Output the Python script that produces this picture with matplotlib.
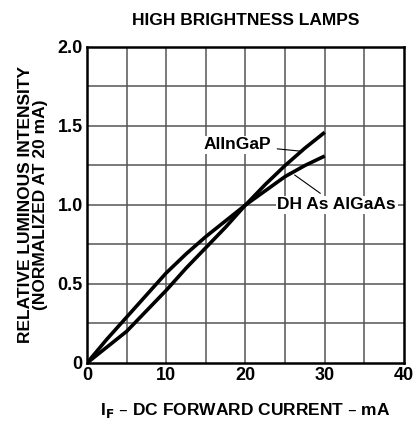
import numpy as np
import matplotlib
matplotlib.use('Agg')
import matplotlib.pyplot as plt

plt.rcParams['font.family'] = ['Liberation Sans', 'DejaVu Sans']
plt.rcParams['font.weight'] = 'bold'

# 读图得到的数据
current = [0, 2.5, 5, 7.5, 10, 12.5, 15, 17.5, 20, 22.5, 25, 27.5, 30]
alingap = [0, 0.10, 0.20, 0.33, 0.46, 0.60, 0.73, 0.86, 1.0, 1.13, 1.25, 1.36, 1.46]
algaas = [0, 0.15, 0.29, 0.43, 0.57, 0.69, 0.80, 0.90, 1.0, 1.09, 1.18, 1.25, 1.31]

xticks = [0, 10, 20, 30, 40]
yticks = [0, 0.5, 1.0, 1.5, 2.0]
ytick_labels = ['0', '0.5', '1.0', '1.5', '2.0']

fs = 12.5

fig = plt.figure(figsize=(4.15, 4.26), dpi=100)
ax = fig.add_axes([0.2096, 0.1479, 0.7639, 0.7418])

ax.set_xlim(0, 40)
ax.set_ylim(0, 2.0)
# 网格 5 mA / 0.25
for gx in np.arange(5, 40, 5):
    ax.axvline(gx, color='#555555', lw=1.1, zorder=1)
for gy in np.arange(0.25, 2.0, 0.25):
    ax.axhline(gy, color='#555555', lw=1.1, zorder=1)

ax.plot(current, alingap, color='black', lw=2.6, solid_capstyle='butt', zorder=3)
ax.plot(current, algaas, color='black', lw=2.6, solid_capstyle='butt', zorder=3)

ax.set_xticks(xticks)
ax.set_yticks(yticks)
ax.set_yticklabels(ytick_labels)
ax.tick_params(length=0, labelsize=13, pad=3)
for lab in ax.get_xticklabels() + ax.get_yticklabels():
    lab.set_fontweight('bold')
for s in ax.spines.values():
    s.set_linewidth(1.8)
    s.set_zorder(4)

# 标注
ax.annotate('AlInGaP', xy=(27.1, 1.34), xytext=(19.0, 1.38), fontsize=fs,
            fontweight='bold', ha='center', va='center', zorder=5,
            bbox=dict(boxstyle='square,pad=0.1', fc='white', ec='none'),
            arrowprops=dict(arrowstyle='-', color='black', lw=0.8,
                            shrinkA=3, shrinkB=0))
ax.annotate('DH As AlGaAs', xy=(26.2, 1.19), xytext=(31.5, 1.0), fontsize=fs,
            fontweight='bold', ha='center', va='center', zorder=5,
            bbox=dict(boxstyle='square,pad=0.1', fc='white', ec='none'),
            arrowprops=dict(arrowstyle='-', color='black', lw=0.8,
                            shrinkA=3, shrinkB=0))

ax.set_xlabel('I$_\\mathbf{F}$ – DC FORWARD CURRENT – mA', fontsize=fs,
              fontweight='bold', labelpad=12)
ax.set_ylabel('RELATIVE LUMINOUS INTENSITY\n(NORMALIZED AT 20 mA)',
              fontsize=fs, fontweight='bold', labelpad=7, linespacing=1.0)
ax.set_title('HIGH BRIGHTNESS LAMPS', fontsize=fs, fontweight='bold', pad=16)

fig.savefig('out.png', dpi=100)
